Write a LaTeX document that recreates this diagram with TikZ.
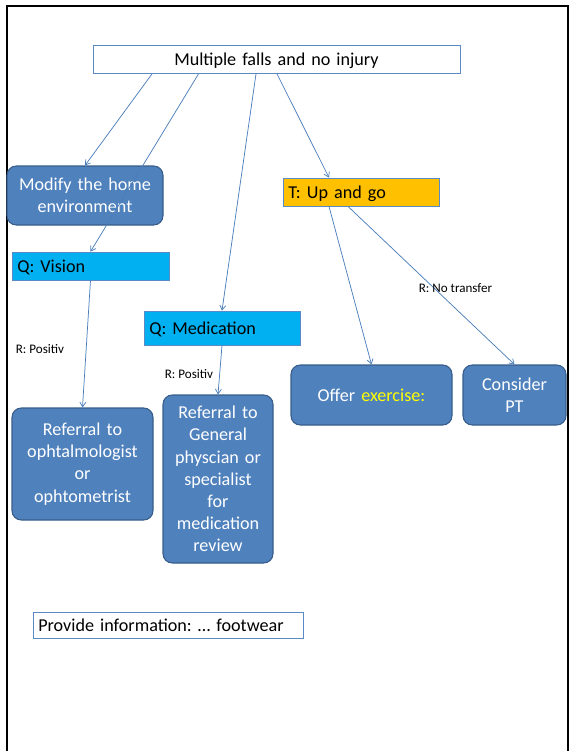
\documentclass[tikz,border=0pt]{standalone}
\usepackage{fontspec}
\setmainfont{Carlito}
\usetikzlibrary{arrows.meta,calc}
\definecolor{boxblue}{HTML}{4F81BD}
\definecolor{boxedge}{HTML}{385D8A}
\definecolor{thinedge}{HTML}{5A8AC6}
\definecolor{qcyan}{HTML}{00B0F0}
\definecolor{torange}{HTML}{FFC000}
\definecolor{arrowblue}{HTML}{4A7EBB}
\definecolor{exyellow}{HTML}{FFFF00}
\frenchspacing
\begin{document}
\begin{tikzpicture}[x=0.75pt,y=-0.75pt,
  every node/.style={font=\fontsize{13.6}{16.6}\selectfont},
  plainbox/.style={draw=thinedge, line width=0.6pt, fill=white, inner xsep=4pt, inner ysep=0pt, align=left, text=black, anchor=center, text depth=0pt},
  qbox/.style={plainbox, fill=qcyan},
  tbox/.style={plainbox, fill=torange},
  rbox/.style={draw=boxedge, line width=0.8pt, fill=boxblue, rounded corners=7pt, text=white, align=center, inner sep=0pt, anchor=center},
  lbl/.style={font=\fontsize{9.8}{11}\selectfont, inner sep=0pt, text=black},
  conn/.style={draw=arrowblue, line width=0.55pt, -{Straight Barb[length=3.5pt,width=4.5pt]}}
]
\useasboundingbox (0,0) rectangle (570,751);
\draw[line width=1.1pt] (7,751) -- (7,6) -- (568,6) -- (568,751);

\node[plainbox, align=center, text width=267.25pt, minimum height=21pt] (top) at (276.5,59.5) {Multiple falls and no injury};
\node[rbox, text width=117pt, minimum height=44.25pt] (modify) at (85,195.5) {Modify the home\\environment};
\node[qbox, text width=109.75pt, minimum height=21pt] (vision) at (90.5,266) {Q: Vision};
\node[qbox, text width=109pt, minimum height=25.5pt] (med) at (222,328) {Q: Medication};
\node[tbox, text width=109pt, minimum height=21pt] (tug) at (361,192) {T: Up and go};
\node[rbox, text width=105.75pt, minimum height=84pt] (ophth) at (82.5,464) {Referral to\\ophtalmologist\\or\\ophtometrist};
\node[rbox, text width=82.5pt, minimum height=126pt] (general) at (218,479) {Referral to\\General\\physcian or\\specialist\\for\\medication\\review};
\node[rbox, text width=120.75pt, minimum height=45pt] (offer) at (371.5,395) {Offer \textcolor{exyellow}{exercise:}};
\node[rbox, text width=77.25pt, minimum height=45pt] (consider) at (514.5,395) {Consider\\PT};
\node[plainbox, text width=194.5pt, minimum height=19.5pt] (provide) at (168,625) {Provide information: … footwear};

\draw[conn] ($(top.south)+(-124.5,0)$) -- (modify.north);
\draw[conn] ($(top.south)+(-78,0)$) -- (vision.north);
\draw[conn] ($(top.south)+(-20.5,0)$) -- (med.north);
\draw[conn] ($(top.south)+(0.5,0)$) -- ($(tug.north)+(-32,0)$);
\draw[conn] (vision.south) -- (ophth.north);
\draw[conn] (med.south) -- (general.north);
\draw[conn] ($(tug.south)+(-32,0)$) -- (offer.north);
\draw[conn] ($(tug.south)+(-13,0)$) -- (consider.north);

\node[lbl] (lblvision) at (40,349) {R: Positiv};
\node[lbl] (lblmed) at (189,374) {R: Positiv};
\node[lbl] (lbltransfer) at (455.5,288) {R: No transfer};
\end{tikzpicture}
\end{document}
